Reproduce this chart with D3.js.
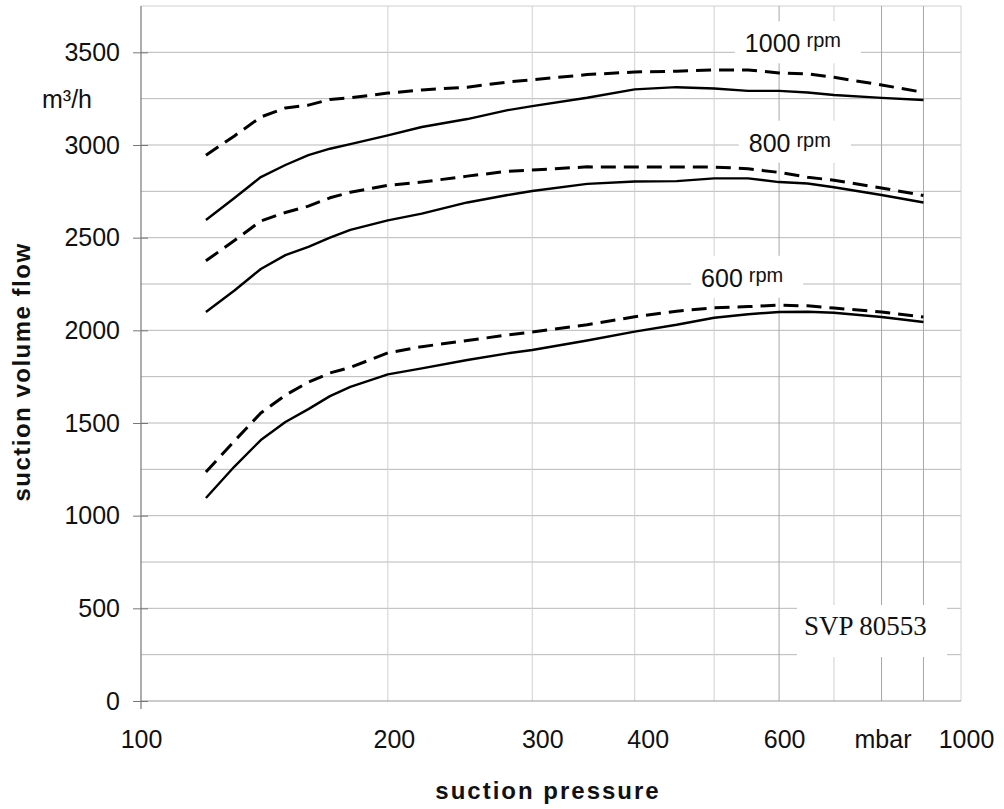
<!DOCTYPE html>
<html>
<head>
<meta charset="utf-8">
<script src="https://cdn.jsdelivr.net/npm/d3@7"></script>
<style>
  html, body { margin: 0; padding: 0; background: #fff; }
  svg { display: block; }
</style>
</head>
<body>
<svg id="chart" width="1004" height="809"></svg>
<script>
// ---------------- DATA ----------------
const pressure = [120,130,140,150,160,170,180,200,220,250,280,300,350,400,450,500,550,600,650,700,800,900];

const solid1000  = [2595,2714,2827,2892,2945,2980,3005,3052,3097,3140,3188,3210,3255,3300,3312,3305,3292,3292,3283,3270,3254,3243];
const dashed1000 = [2945,3049,3151,3200,3215,3246,3255,3280,3297,3312,3340,3352,3380,3394,3398,3405,3405,3389,3384,3365,3324,3284];

const solid800   = [2099,2215,2331,2406,2450,2500,2542,2593,2630,2690,2730,2752,2790,2803,2805,2820,2820,2800,2792,2772,2730,2690];
const dashed800  = [2375,2485,2590,2636,2670,2715,2745,2782,2800,2832,2858,2865,2882,2881,2881,2881,2872,2852,2826,2810,2768,2728];

const solid600   = [1095,1265,1408,1505,1575,1645,1695,1762,1795,1840,1876,1894,1945,1993,2030,2068,2087,2099,2100,2095,2072,2045];
const dashed600  = [1236,1403,1554,1650,1720,1770,1800,1878,1912,1945,1975,1991,2030,2073,2103,2122,2128,2136,2132,2120,2099,2072];

const yTicks = [0,500,1000,1500,2000,2500,3000,3500];
const xTickValues = [100,200,300,400,600,800,1000];
const xTickLabels = ["100","200","300","400","600","mbar","1000"];
const xGrid = [200,300,400,500,600,700,800,900,1000];
const yGrid = [250,500,750,1000,1250,1500,1750,2000,2250,2500,2750,3000,3250,3500,3750];

const rpmNames = ["1000","800","600"];
const rpmAnchorP = [545,551,482];     // pressure where label starts
const rpmAnchorV = [3500,2964,2235];  // flow at label baseline

const yTitle = "suction volume flow";
const xTitle = "suction pressure";
const unitLabel = "m³/h";
const modelLabel = "SVP 80553";

// ---------------- CHART ----------------
const svg = d3.select("#chart");
const x = d3.scaleLog().domain([100,1000]).range([141,961]);
const y = d3.scaleLinear().domain([0,3750]).range([701,6]);
const SANS = "'Liberation Sans', Arial, sans-serif";

// grid
const darkV = new Set([600,800,900]);
svg.append("g").selectAll("line").data(yGrid).join("line")
  .attr("x1", x(100)).attr("x2", x(1000))
  .attr("y1", d => y(d)).attr("y2", d => y(d))
  .attr("stroke", d => d === 3750 ? "#d0d0d0" : "#b8b8b8").attr("stroke-width", 1);
svg.append("g").selectAll("line").data(xGrid).join("line")
  .attr("x1", d => x(d)).attr("x2", d => x(d))
  .attr("y1", y(3750)).attr("y2", y(0))
  .attr("stroke", d => darkV.has(d) ? "#a8a8a8" : "#d0d0d0").attr("stroke-width", 1);
// bottom baseline
svg.append("line").attr("x1", x(100)).attr("x2", x(1000)).attr("y1", y(0)).attr("y2", y(0))
  .attr("stroke", "#999").attr("stroke-width", 1);

// y axis
const yAxis = svg.append("g").attr("transform", `translate(${x(100)},0)`)
  .call(d3.axisLeft(y).tickValues(yTicks).tickSize(8).tickPadding(13).tickFormat(d3.format("d")));
yAxis.select(".domain").remove();
yAxis.selectAll(".tick line").attr("x1", 7).attr("stroke", "#777");
yAxis.selectAll(".tick text").attr("font-family", SANS).attr("font-size", 25).attr("fill", "#111");
svg.append("line").attr("x1", x(100)).attr("x2", x(100)).attr("y1", y(3750)).attr("y2", y(0) + 8)
  .attr("stroke", "#777").attr("stroke-width", 1.2);

// x axis
const nudge = [0, 6, 10, 13, 5, 1, 5];
const xAxis = svg.append("g").attr("transform", `translate(0,${y(0)})`)
  .call(d3.axisBottom(x).tickValues(xTickValues).tickSize(0).tickPadding(29)
    .tickFormat((d, i) => xTickLabels[i]));
xAxis.select(".domain").remove();
xAxis.selectAll(".tick text").attr("font-family", SANS).attr("font-size", 25).attr("fill", "#111")
  .attr("dx", (d, i) => nudge[i]);

// label boxes (white) for rpm labels
const labelG = svg.append("g");
rpmNames.forEach((name, i) => {
  const g = labelG.append("g");
  const rect = g.append("rect").attr("fill", "#fff");
  const t = g.append("text").attr("x", x(rpmAnchorP[i])).attr("y", y(rpmAnchorV[i]))
    .attr("font-family", SANS).attr("fill", "#111");
  t.append("tspan").attr("font-size", 25).text(name);
  t.append("tspan").attr("font-size", 20).attr("dx", 6).attr("dy", -5).text("rpm");
  const bb = t.node().getBBox();
  rect.attr("x", bb.x - 10).attr("y", bb.y - 8).attr("width", bb.width + 30).attr("height", bb.height + 14);
});

// model label box
const mg = svg.append("g");
const mrect = mg.append("rect").attr("fill", "#fff");
mg.append("text").attr("x", 804).attr("y", 635)
  .attr("font-family", "'Liberation Serif', 'Times New Roman', serif").attr("font-size", 27)
  .attr("fill", "#111").text(modelLabel);
mrect.attr("x", 797).attr("y", 605).attr("width", 150).attr("height", 52);

// curves
const line = d3.line().x(d => x(d[0])).y(d => y(d[1]));
const series = [
  {v: solid1000, dash: false}, {v: dashed1000, dash: true},
  {v: solid800, dash: false},  {v: dashed800, dash: true},
  {v: solid600, dash: false},  {v: dashed600, dash: true}
];
svg.append("g").selectAll("path").data(series).join("path")
  .attr("d", s => line(pressure.map((p, i) => [p, s.v[i]])))
  .attr("fill", "none").attr("stroke", "#000")
  .attr("stroke-width", s => s.dash ? 3 : 2.4)
  .attr("stroke-dasharray", s => s.dash ? "15,8" : null)
  .attr("stroke-linejoin", "round");

// unit label
svg.append("text").attr("x", 42).attr("y", 108).attr("font-family", SANS).attr("font-size", 25)
  .attr("fill", "#111").text(unitLabel);

// titles
svg.append("text").attr("x", 548).attr("y", 799).attr("text-anchor", "middle")
  .attr("font-family", SANS).attr("font-weight", "bold").attr("font-size", 24)
  .attr("letter-spacing", 2).attr("fill", "#111").text(xTitle);
svg.append("text").attr("transform", "translate(30,372) rotate(-90)").attr("text-anchor", "middle")
  .attr("font-family", SANS).attr("font-weight", "bold").attr("font-size", 24)
  .attr("letter-spacing", 1.5).attr("fill", "#111").text(yTitle);
</script>
</body>
</html>
